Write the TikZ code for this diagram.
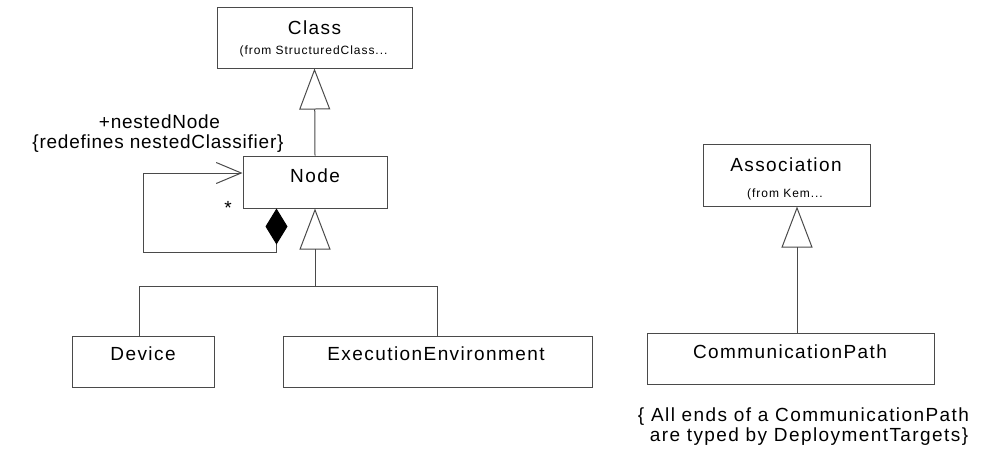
\documentclass[tikz,border=0pt]{standalone}
\usepackage{fontspec}
\setmainfont{Liberation Sans}[LetterSpace=4]
\newfontfamily\umlwide{Liberation Sans}[LetterSpace=7.5]
\newfontfamily\umlsmall{Liberation Sans}[LetterSpace=8]
\usetikzlibrary{positioning,calc,arrows.meta}
\definecolor{UInk}{HTML}{000000}
\definecolor{ULine}{HTML}{4A4A4A}

\begin{document}
\begin{tikzpicture}[x=1pt, y=-1pt,
  umlbox/.style={draw=ULine, line width=1pt, inner sep=0pt},
  labeltext/.style={font=\fontsize{19}{19}\selectfont, text=UInk, anchor=base, inner sep=0pt},
  nametext/.style={labeltext, font=\umlwide\fontsize{19}{19}\selectfont},
  fromtext/.style={font=\umlsmall\fontsize{12}{12}\selectfont, text=UInk, anchor=base, inner sep=0pt},
  conn/.style={draw=ULine, line width=1pt},
  gen/.style={conn, -{Triangle[open, length=41pt, width=31pt]}}]
  \useasboundingbox (0,0) rectangle (981,459);

  % classes
  \node[umlbox, minimum width=195pt, minimum height=61pt] (cls) at (314.5,37.5) {};
  \node[nametext] (clsname) at (314.5,34) {Class};
  \node[fromtext] (clsfrom) at (313.5,54) {(from StructuredClass...};

  \node[umlbox, minimum width=144pt, minimum height=52pt] (node) at (315,182) {};
  \node[nametext] (nodename) at (315,182.5) {Node};

  \node[umlbox, minimum width=142pt, minimum height=51pt] (dev) at (143,361.5) {};
  \node[nametext] (devname) at (143,360.5) {Device};

  \node[umlbox, minimum width=309pt, minimum height=51pt] (exe) at (437.5,361.5) {};
  \node[nametext] (exename) at (436,360) {ExecutionEnvironment};

  \node[umlbox, minimum width=167pt, minimum height=62pt] (assoc) at (786.5,175) {};
  \node[nametext] (assocname) at (786,171) {Association};
  \node[fromtext] (assocfrom) at (785,197) {(from Kem...};

  \node[umlbox, minimum width=287pt, minimum height=51pt] (path) at (790.5,358.5) {};
  \node[nametext] (pathname) at (790,358.5) {CommunicationPath};

  % generalizations
  \coordinate (join) at (315,286);
  \coordinate (gx) at (797,0);
  \draw[gen] (node.north) -- (cls.south);
  \draw[conn] ([xshift=-4pt]dev.north) |- (join);
  \draw[conn] (exe.north) |- (join);
  \draw[gen] (join) -- (node.south);
  \draw[gen] (path.north -| gx) -- (assoc.south -| gx);

  % nested nodes
  \coordinate (loop) at (143,252);
  \draw[conn, {Diamond[length=36pt, width=22pt, color=black]}-{Straight Barb[length=25pt, width=21pt]}]
    ([xshift=34pt]node.south west) |- (loop) |- ([yshift=9pt]node.west);
  \node[labeltext] (role) at (159.5,128.3) {+nestedNode};
  \node[labeltext] (redef) at (158,148.3) {\{redefines nestedClassifier\}};
  \node[labeltext] (mult) at (228,214) {*};

  % constraint
  \node[nametext] (con1) at (803.5,421) {\{ All ends of a CommunicationPath};
  \node[nametext] (con2) at (809,441) {are typed by DeploymentTargets\}};
\end{tikzpicture}
\end{document}
